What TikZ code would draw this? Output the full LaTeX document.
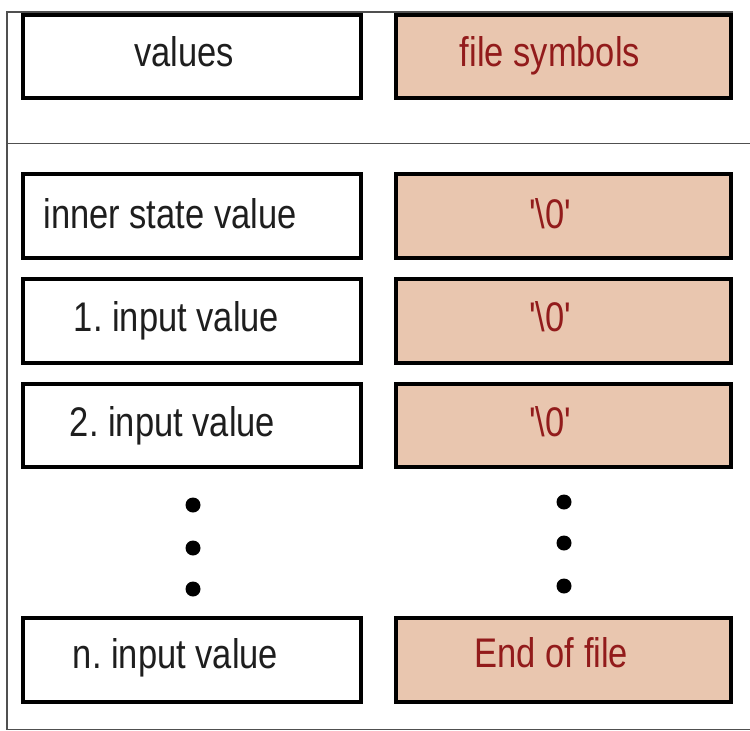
\documentclass[tikz,border=0pt]{standalone}
\usepackage{fontspec}
\usepackage{graphicx}
\setmainfont{Liberation Sans}
\frenchspacing
\definecolor{symfill}{HTML}{E9C6AF}
\definecolor{symtext}{HTML}{921B1B}
\definecolor{valtext}{HTML}{1E1E1E}
\definecolor{framegray}{HTML}{505050}
% labels are set slightly tall and narrow
\newcommand{\tallbox}[1]{\scalebox{1}[1.2]{#1}}
\newcommand{\nulchar}{\textquotesingle\textbackslash0\textquotesingle}
\begin{document}
\begin{tikzpicture}[x=1pt,y=-1pt,
  valbox/.style={draw=black, line width=4pt, fill=white, inner sep=0pt,
    minimum width=337.5pt, minimum height=83.5pt},
  symbox/.style={valbox, fill=symfill, minimum width=335.8pt},
  valtxt/.style={anchor=base, inner sep=0pt, text=valtext,
    font=\fontsize{34.5}{40}\selectfont},
  symtxt/.style={valtxt, text=symtext},
  dot/.style={circle, fill=black, inner sep=0pt, minimum size=15pt},
  frameline/.style={draw=framegray, line width=1.6pt}]
\useasboundingbox (0,0) rectangle (750,731);

% outer frame and separator between header and list
\coordinate (ftl) at (7,12);
\coordinate (ftr) at (733,12);
\coordinate (fbl) at (7,729.3);
\coordinate (fbr) at (752,729.3);
\coordinate (sepl) at (7,143.3);
\coordinate (sepr) at (752,143.3);
\draw[frameline] (ftr) -- (ftl) -- (fbl) -- (fbr);
\draw[frameline] (sepl) -- (sepr);

% header row
\node[valbox] (hv) at (191.75,56.7) {};
\node[symbox] (hs) at (563.4,56.7) {};
\node[valtxt] (hvt) at (184,66.7) {\tallbox{values}};
\node[symtxt] (hst) at (550,66.7) {\tallbox{file symbols}};

% list rows
\node[valbox] (v0) at (191.75,216) {};
\node[symbox] (s0) at (563.4,216) {};
\node[valbox] (v1) at (191.75,321.2) {};
\node[symbox] (s1) at (563.4,321.2) {};
\node[valbox] (v2) at (191.75,425.5) {};
\node[symbox] (s2) at (563.4,425.5) {};
\node[valbox] (vn) at (191.75,660) {};
\node[symbox] (sn) at (563.4,660) {};

\node[valtxt] (v0t) at (170,228) {\tallbox{inner state value}};
\node[valtxt] (v1t) at (176.5,331.7) {\tallbox{1. input value}};
\node[valtxt] (v2t) at (172.5,436.5) {\tallbox{2. input value}};
\node[valtxt] (vnt) at (175.5,668.5) {\tallbox{n. input value}};

\node[symtxt] (s0t) at (550,228) {\tallbox{\nulchar}};
\node[symtxt] (s1t) at (550,331.7) {\tallbox{\nulchar}};
\node[symtxt] (s2t) at (550,436.5) {\tallbox{\nulchar}};
\node[symtxt] (snt) at (551.5,667) {\tallbox{End of file}};

% ellipsis dots
\node[dot] (ld1) at (193,505) {};
\node[dot] (ld2) at (193,548) {};
\node[dot] (ld3) at (193,589) {};
\node[dot] (rd1) at (564,502) {};
\node[dot] (rd2) at (564,543) {};
\node[dot] (rd3) at (564,586) {};
\end{tikzpicture}
\end{document}
